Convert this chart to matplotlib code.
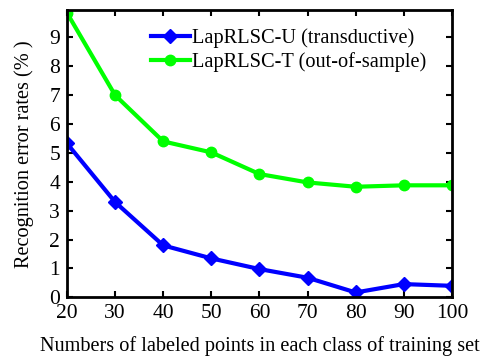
import matplotlib
matplotlib.use("Agg")
import matplotlib.pyplot as plt

labeled_points = [20, 30, 40, 50, 60, 70, 80, 90, 100]
err_transductive = [5.33, 3.30, 1.80, 1.35, 0.98, 0.68, 0.17, 0.46, 0.40]
err_out_of_sample = [9.85, 7.00, 5.40, 5.02, 4.27, 3.98, 3.83, 3.88, 3.88]
x_ticks = [20, 30, 40, 50, 60, 70, 80, 90, 100]
y_ticks = [0, 1, 2, 3, 4, 5, 6, 7, 8, 9]


def main() -> None:
    plt.rcParams["font.family"] = ["Liberation Serif", "DejaVu Serif"]

    fig = plt.figure(figsize=(4.98, 3.57), dpi=100)
    ax = fig.add_axes([0.1345, 0.167, 0.773, 0.805])

    ax.plot(labeled_points, err_transductive, color="#0000ff", linewidth=3,
            marker="D", markersize=7, label="LapRLSC-U (transductive)")
    ax.plot(labeled_points, err_out_of_sample, color="#00ff00", linewidth=3,
            marker="o", markersize=7.5, label="LapRLSC-T (out-of-sample)")

    ax.set_xlim(20, 100)
    ax.set_ylim(0, 9.95)
    ax.set_xticks(x_ticks)
    ax.set_yticks(y_ticks)
    ax.tick_params(direction="in", top=True, right=True, length=4, width=1.5,
                   labelsize=15.5, pad=5)
    for spine in ax.spines.values():
        spine.set_linewidth(2)

    ax.set_xlabel("Numbers of labeled points in each class of training set",
                  fontsize=14.6, labelpad=9)
    ax.set_ylabel("Recognition error rates (% )", fontsize=14.6, labelpad=11)

    ax.legend(loc="upper right", frameon=False, fontsize=14.7,
              handlelength=1.9, handletextpad=0.1, labelspacing=0.2,
              borderaxespad=0.3, bbox_to_anchor=(0.97, 0.985))

    fig.savefig("out.png", dpi=100)
    plt.close(fig)


if __name__ == "__main__":
    main()
